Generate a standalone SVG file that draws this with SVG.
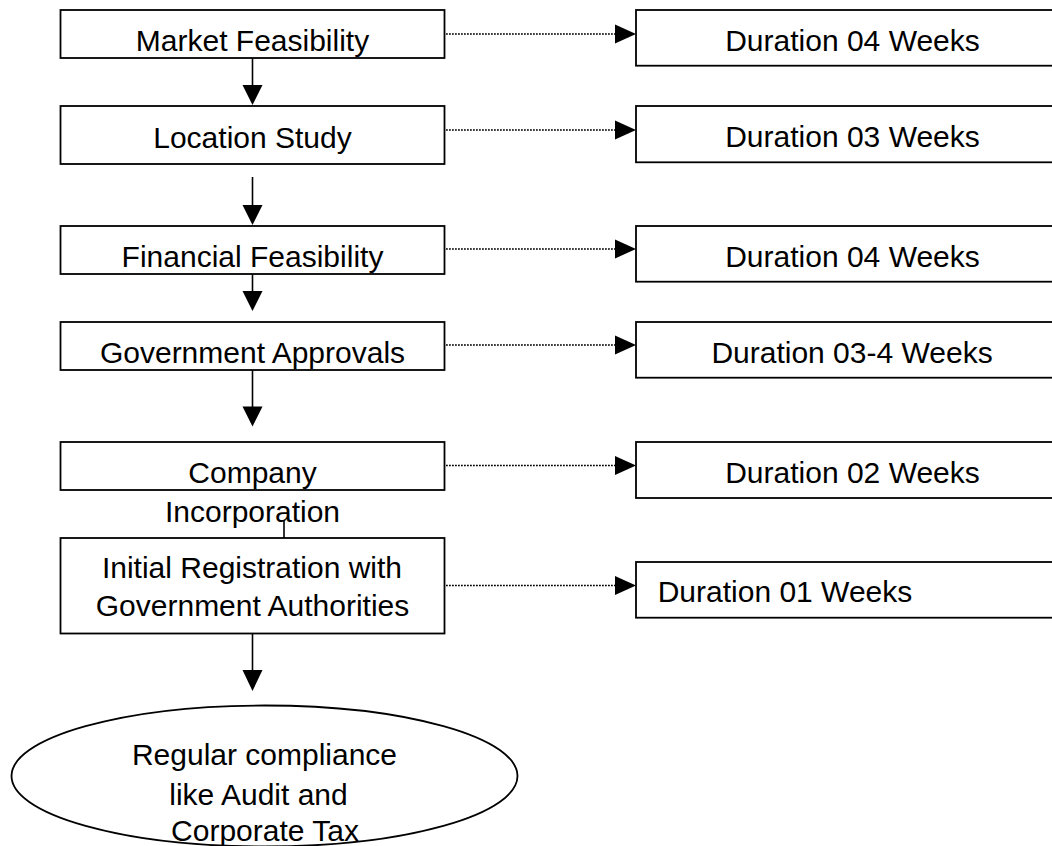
<svg xmlns="http://www.w3.org/2000/svg" width="1052" height="846" viewBox="0 0 1052 846">
<style>
.box{fill:#fff;stroke:#000;stroke-width:1.8}
.t{font-family:"Liberation Sans",Arial,sans-serif;font-size:30px;fill:#000;text-anchor:middle}
.ts{font-family:"Liberation Sans",Arial,sans-serif;font-size:30px;fill:#000;text-anchor:start}
.flow{stroke:#000;stroke-width:1.6;fill:none}
.dot{stroke:#000;stroke-width:1.3;stroke-dasharray:1.8 1.2;fill:none}
.head{fill:#000;stroke:none}
</style>
<rect width="1052" height="846" fill="#fff"/>
<g id="connectors">
  <line class="flow" x1="252.5" y1="58" x2="252.5" y2="86"/>
  <polygon class="head" points="242.5,85 262.5,85 252.5,105"/>
  <line class="flow" x1="252.5" y1="177" x2="252.5" y2="206"/>
  <polygon class="head" points="242.5,205 262.5,205 252.5,225"/>
  <line class="flow" x1="252.5" y1="274" x2="252.5" y2="292"/>
  <polygon class="head" points="242.5,291 262.5,291 252.5,311"/>
  <line class="flow" x1="252.5" y1="370" x2="252.5" y2="407"/>
  <polygon class="head" points="242.5,406.5 262.5,406.5 252.5,426.5"/>
  <line class="flow" x1="284" y1="520" x2="284" y2="538"/>
  <line class="flow" x1="252.5" y1="634" x2="252.5" y2="671"/>
  <polygon class="head" points="242.5,670 262.5,670 252.5,691"/>

  <line class="dot" x1="446" y1="34" x2="616" y2="34"/>
  <polygon class="head" points="615,24.5 636,34 615,43.5"/>
  <line class="dot" x1="446" y1="130" x2="616" y2="130"/>
  <polygon class="head" points="615,120.5 636,130 615,139.5"/>
  <line class="dot" x1="446" y1="249" x2="616" y2="249"/>
  <polygon class="head" points="615,239.5 636,249 615,258.5"/>
  <line class="dot" x1="446" y1="345" x2="616" y2="345"/>
  <polygon class="head" points="615,335.5 636,345 615,354.5"/>
  <line class="dot" x1="446" y1="465.5" x2="616" y2="465.5"/>
  <polygon class="head" points="615,456 636,465.5 615,475"/>
  <line class="dot" x1="446" y1="585.5" x2="616" y2="585.5"/>
  <polygon class="head" points="615,576 636,585.5 615,595"/>
</g>
<g id="market-feasibility">
  <rect class="box" x="60.5" y="10" width="384" height="48"/>
  <text class="t" x="252.5" y="51">Market Feasibility</text>
</g>
<g id="location-study">
  <rect class="box" x="60.5" y="106" width="384" height="58"/>
  <text class="t" x="252.5" y="147.5">Location Study</text>
</g>
<g id="financial-feasibility">
  <rect class="box" x="60.5" y="226" width="384" height="48"/>
  <text class="t" x="252.5" y="266.5">Financial Feasibility</text>
</g>
<g id="government-approvals">
  <rect class="box" x="60.5" y="322" width="384" height="48"/>
  <text class="t" x="252.5" y="362.5">Government Approvals</text>
</g>
<g id="company-incorporation">
  <rect class="box" x="60.5" y="442" width="384" height="48"/>
  <text class="t" x="252.5" y="482.5">Company</text>
  <text class="t" x="252.5" y="521.5">Incorporation</text>
</g>
<g id="initial-registration">
  <rect class="box" x="60.5" y="538" width="384" height="95.5"/>
  <text class="t" x="252" y="578">Initial Registration with</text>
  <text class="t" x="252.5" y="616">Government Authorities</text>
</g>
<g id="regular-compliance">
  <ellipse class="box" cx="264.5" cy="776" rx="253" ry="70.5"/>
  <text class="t" x="264.5" y="765">Regular compliance</text>
  <text class="t" x="258.5" y="805">like Audit and</text>
  <text class="t" x="265" y="841">Corporate Tax</text>
</g>
<g id="duration-1">
  <rect class="box" x="636" y="10" width="440" height="55.7"/>
  <text class="t" x="852.5" y="50.7">Duration 04 Weeks</text>
</g>
<g id="duration-2">
  <rect class="box" x="636" y="106" width="440" height="56.3"/>
  <text class="t" x="852.5" y="146.7">Duration 03 Weeks</text>
</g>
<g id="duration-3">
  <rect class="box" x="636" y="226" width="440" height="55.7"/>
  <text class="t" x="852.5" y="266.7">Duration 04 Weeks</text>
</g>
<g id="duration-4">
  <rect class="box" x="636" y="322" width="440" height="55.7"/>
  <text class="t" x="852" y="362.7">Duration 03-4 Weeks</text>
</g>
<g id="duration-5">
  <rect class="box" x="636" y="442" width="440" height="56"/>
  <text class="t" x="852.5" y="482.7">Duration 02 Weeks</text>
</g>
<g id="duration-6">
  <rect class="box" x="636" y="562" width="440" height="55.7"/>
  <text class="ts" x="657.7" y="602.3">Duration 01 Weeks</text>
</g>
</svg>
